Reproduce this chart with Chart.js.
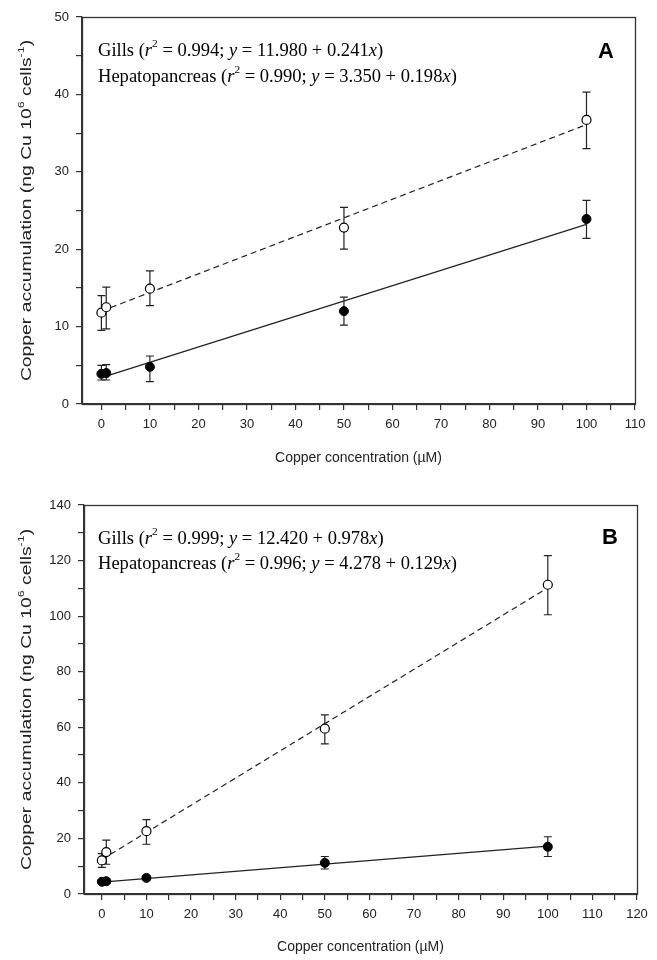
<!DOCTYPE html>
<html><head><meta charset="utf-8">
<script src="https://cdn.jsdelivr.net/npm/chart.js@4/dist/chart.umd.min.js"></script>
<style>
body{margin:0;background:#fff;width:657px;height:960px;overflow:hidden;position:relative}
canvas{position:absolute;left:0}
</style></head><body>
<canvas id="a" width="657" height="470" style="top:0"></canvas>
<canvas id="b" width="657" height="480" style="top:480px"></canvas>
<script>
// ---------- data, panel A ----------
const concA = [0, 1, 10, 50, 100];
const gillsA = [11.8, 12.5, 14.9, 22.8, 36.7];
const gillsAHi = [14.0, 15.1, 17.2, 25.4, 40.3];
const gillsALo = [9.5, 9.7, 12.7, 20.0, 33.0];
const hepA = [3.9, 4.0, 4.8, 12.0, 23.9];
const hepAHi = [5.0, 5.1, 6.2, 13.8, 26.3];
const hepALo = [3.1, 3.1, 2.9, 10.2, 21.4];
const fitXA = [0, 100];
const gillsFitA = [12.0, 36.1];
const hepFitA = [3.4, 23.2];
const xTicksA = [0,5,10,15,20,25,30,35,40,45,50,55,60,65,70,75,80,85,90,95,100,105,110];
const yTicksA = [0,5,10,15,20,25,30,35,40,45,50];

// ---------- data, panel B ----------
const concB = [0, 1, 10, 50, 100];
const gillsB = [12.1, 15.1, 22.6, 59.5, 111.3];
const gillsBHi = [14.5, 19.4, 26.8, 64.5, 121.8];
const gillsBLo = [9.6, 10.7, 17.9, 54.0, 100.5];
const hepB = [4.4, 4.6, 5.8, 11.2, 17.0];
const hepBHi = [5.0, 5.3, 6.4, 13.5, 20.6];
const hepBLo = [3.8, 3.9, 5.2, 9.0, 13.5];
const fitXB = [0, 100];
const gillsFitB = [12.4, 110.2];
const hepFitB = [4.3, 17.2];
const xTicksB = [0,5,10,15,20,25,30,35,40,45,50,55,60,65,70,75,80,85,90,95,100,105,110,115,120];
const yTicksB = [0,10,20,30,40,50,60,70,80,90,100,110,120,130,140];

const yTitle = [["Copper accumulation (ng Cu 10","n"],["6","sup"],[" cells","n"],["-1","sup"],[")","n"]];
const xTitle = "Copper concentration (\u00B5M)";
const annA = [
  [["Gills (","n"],["r","i"],["2","sup"],[" = 0.994; ","n"],["y","i"],[" = 11.980 + 0.241","n"],["x","i"],[")","n"]],
  [["Hepatopancreas (","n"],["r","i"],["2","sup"],[" = 0.990; ","n"],["y","i"],[" = 3.350 + 0.198","n"],["x","i"],[")","n"]]
];
const annB = [
  [["Gills (","n"],["r","i"],["2","sup"],[" = 0.999; ","n"],["y","i"],[" = 12.420 + 0.978","n"],["x","i"],[")","n"]],
  [["Hepatopancreas (","n"],["r","i"],["2","sup"],[" = 0.996; ","n"],["y","i"],[" = 4.278 + 0.129","n"],["x","i"],[")","n"]]
];

const INK = '#222';
const SANS = '"Liberation Sans", Arial, sans-serif';
const SERIF = '"Liberation Serif", "Times New Roman", serif';

function segFont(style, size, fam){
  const it = style === 'i';
  const sup = style === 'sup';
  return { font: (it ? 'italic ' : '') + (sup ? Math.round(size*0.62) : size) + 'px ' + fam, dy: sup ? -size*0.38 : 0 };
}
function richWidth(ctx, segs, size, fam){
  let w = 0;
  for (const s of segs){ ctx.font = segFont(s[1], size, fam).font; w += ctx.measureText(s[0]).width; }
  return w;
}
function drawRich(ctx, x, y, segs, size, fam){
  let cx = x;
  for (const s of segs){
    const f = segFont(s[1], size, fam);
    ctx.font = f.font;
    ctx.fillText(s[0], cx, y + f.dy);
    cx += ctx.measureText(s[0]).width;
  }
}

function xy(xs, ys){ return xs.map((v,i)=>({x:v, y:ys[i]})); }

function makeChart(id, cfg){
  const errPlugin = {
    id: 'err',
    beforeDatasetsDraw(chart){
      const ctx = chart.ctx, xs = chart.scales.x, ys = chart.scales.y;
      ctx.save();
      ctx.strokeStyle = INK; ctx.lineWidth = 1.2;
      for (const e of cfg.errors){
        e.x.forEach((xv,i)=>{
          const px = xs.getPixelForValue(xv);
          const hi = ys.getPixelForValue(e.hi[i]);
          const lo = ys.getPixelForValue(e.lo[i]);
          ctx.beginPath();
          ctx.moveTo(px, hi); ctx.lineTo(px, lo);
          ctx.moveTo(px-4, hi); ctx.lineTo(px+4, hi);
          ctx.moveTo(px-4, lo); ctx.lineTo(px+4, lo);
          ctx.stroke();
        });
      }
      ctx.restore();
    },
    afterDraw(chart){
      const ctx = chart.ctx, a = chart.chartArea;
      ctx.save();
      ctx.strokeStyle = '#333'; ctx.lineWidth = 1.3;
      ctx.strokeRect(Math.round(a.left)+0.5, Math.round(a.top)+0.5, Math.round(a.right-a.left), Math.round(a.bottom-a.top));
      ctx.fillStyle = '#000';
      ctx.textBaseline = 'middle';
      ctx.textAlign = 'left';
      // annotation lines (slightly widened)
      cfg.ann.forEach((segs, k)=>{
        ctx.save();
        ctx.translate(cfg.annX, cfg.annY[k]);
        ctx.scale(1.03, 1);
        drawRich(ctx, 0, 0, segs, 18, SERIF);
        ctx.restore();
      });
      // panel letter
      ctx.font = 'bold 22px ' + SANS;
      ctx.fillText(cfg.letter, cfg.letterX, cfg.letterY);
      // x title
      ctx.fillStyle = INK;
      ctx.font = '14px ' + SANS;
      ctx.textAlign = 'center';
      ctx.fillText(xTitle, (a.left + a.right)/2, cfg.xTitleY);
      // y title (rotated, stretched along its length)
      ctx.textAlign = 'left';
      const w = richWidth(ctx, yTitle, 14, SANS);
      ctx.translate(cfg.yTitleX, (a.top + a.bottom)/2);
      ctx.rotate(-Math.PI/2);
      ctx.scale(1.38, 1);
      drawRich(ctx, -w/2, 0, yTitle, 14, SANS);
      ctx.restore();
    }
  };
  const tickFont = { family: SANS, size: 13 };
  return new Chart(document.getElementById(id), {
    type: 'scatter',
    data: { datasets: [
      { data: xy(cfg.x, cfg.gills), pointStyle: 'circle', pointRadius: 4.5, pointBackgroundColor: '#fff', pointBorderColor: '#000', pointBorderWidth: 1.2, showLine: false, order: 0 },
      { data: xy(cfg.x, cfg.hep), pointStyle: 'circle', pointRadius: 4.5, pointBackgroundColor: '#000', pointBorderColor: '#000', pointBorderWidth: 1, showLine: false, order: 0 },
      { data: xy(cfg.fitX, cfg.gillsFit), showLine: true, borderColor: INK, borderWidth: 1.2, borderDash: [6,4], pointRadius: 0, order: 1 },
      { data: xy(cfg.fitX, cfg.hepFit), showLine: true, borderColor: INK, borderWidth: 1.2, pointRadius: 0, order: 1 }
    ]},
    options: {
      responsive: false, animation: false, devicePixelRatio: 1,
      layout: { padding: { top: cfg.padTop, right: cfg.padRight, left: 0, bottom: 0 } },
      plugins: { legend: { display: false }, tooltip: { enabled: false } },
      scales: {
        x: {
          type: 'linear', min: cfg.xMin, max: cfg.xMax,
          afterBuildTicks: s => { s.ticks = cfg.xTicks.map(v => ({ value: v })); },
          afterFit: s => { s.height = cfg.xH; },
          ticks: { autoSkip: false, maxRotation: 0, padding: 7, color: INK, font: tickFont,
                   callback: v => (v % 10 === 0 ? String(v) : '') },
          grid: { drawOnChartArea: false, drawTicks: true, tickLength: 6, color: '#333', lineWidth: 1.2 },
          border: { display: true, color: '#333', width: 1.3 }
        },
        y: {
          type: 'linear', min: cfg.yMin, max: cfg.yMax,
          afterBuildTicks: s => { s.ticks = cfg.yTicks.map(v => ({ value: v })); },
          afterFit: s => { s.width = cfg.yW; },
          ticks: { autoSkip: false, padding: 7, color: INK, font: tickFont,
                   callback: v => (v % cfg.yLabelStep === 0 ? String(v) : '') },
          grid: { drawOnChartArea: false, drawTicks: true, tickLength: 6, color: '#333', lineWidth: 1.2 },
          border: { display: true, color: '#333', width: 1.3 }
        }
      }
    },
    plugins: [errPlugin]
  });
}

makeChart('a', {
  x: concA, gills: gillsA, hep: hepA, fitX: fitXA, gillsFit: gillsFitA, hepFit: hepFitA,
  errors: [{ x: concA, hi: gillsAHi, lo: gillsALo }, { x: concA, hi: hepAHi, lo: hepALo }],
  xMin: -4, xMax: 110, yMin: 0, yMax: 50, xTicks: xTicksA, yTicks: yTicksA, yLabelStep: 10,
  padTop: 17, padRight: 22, yW: 82, xH: 66,
  ann: annA, annX: 98, annY: [51, 77], letter: 'A', letterX: 598, letterY: 52,
  xTitleY: 458, yTitleX: 27
});
makeChart('b', {
  x: concB, gills: gillsB, hep: hepB, fitX: fitXB, gillsFit: gillsFitB, hepFit: hepFitB,
  errors: [{ x: concB, hi: gillsBHi, lo: gillsBLo }, { x: concB, hi: hepBHi, lo: hepBLo }],
  xMin: -4, xMax: 120, yMin: 0, yMax: 140, xTicks: xTicksB, yTicks: yTicksB, yLabelStep: 20,
  padTop: 25, padRight: 20, yW: 84, xH: 66,
  ann: annB, annX: 98, annY: [59, 84], letter: 'B', letterX: 602, letterY: 58,
  xTitleY: 467, yTitleX: 27
});
</script>
</body></html>
